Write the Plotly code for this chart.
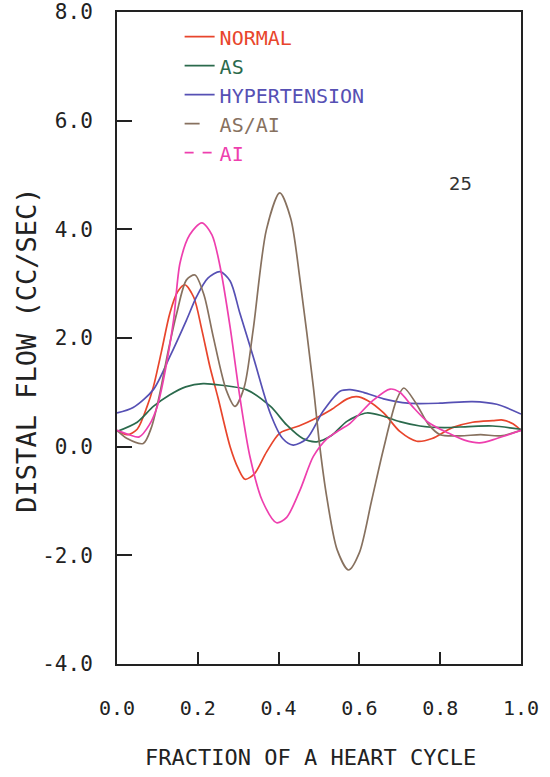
import plotly.graph_objects as go

# ---- data ----
normal_x = [0, 0.025, 0.05, 0.075, 0.09, 0.11, 0.131, 0.15, 0.168, 0.19, 0.21, 0.23, 0.25, 0.28, 0.3, 0.317,
            0.34, 0.37, 0.403, 0.45, 0.486, 0.53, 0.57, 0.593, 0.62, 0.66, 0.7, 0.742, 0.78, 0.83, 0.88, 0.93,
            0.955, 0.98, 1.0]
normal_y = [0.3, 0.22, 0.32, 0.75, 1.1, 1.75, 2.46, 2.85, 2.98, 2.75, 2.15, 1.47, 0.9, 0.0, -0.4, -0.6,
            -0.5, -0.1, 0.25, 0.38, 0.5, 0.68, 0.88, 0.92, 0.85, 0.62, 0.28, 0.1, 0.15, 0.35, 0.45, 0.48,
            0.49, 0.42, 0.3]

as_x = [0, 0.05, 0.09, 0.13, 0.17, 0.213, 0.26, 0.32, 0.38, 0.42, 0.46, 0.494, 0.53, 0.57, 0.618, 0.66,
        0.7, 0.75, 0.81, 0.87, 0.93, 1.0]
as_y = [0.28, 0.45, 0.74, 0.95, 1.1, 1.16, 1.13, 1.05, 0.74, 0.4, 0.15, 0.09, 0.2, 0.47, 0.62, 0.56,
        0.46, 0.38, 0.35, 0.37, 0.38, 0.32]

hyp_x = [0, 0.04, 0.09, 0.131, 0.172, 0.197, 0.225, 0.255, 0.28, 0.304, 0.337, 0.379, 0.41, 0.436, 0.47,
         0.51, 0.552, 0.577, 0.61, 0.66, 0.72, 0.8, 0.88, 0.94, 1.0]
hyp_y = [0.62, 0.72, 1.05, 1.66, 2.33, 2.76, 3.1, 3.22, 3.05, 2.46, 1.66, 0.62, 0.15, 0.03, 0.15,
         0.65, 1.02, 1.05, 1.0, 0.88, 0.8, 0.8, 0.83, 0.78, 0.6]

asai_x = [0, 0.025, 0.065, 0.085, 0.106, 0.125, 0.148, 0.172, 0.193, 0.215, 0.238, 0.27, 0.292, 0.315,
          0.337, 0.37, 0.403, 0.43, 0.453, 0.486, 0.502, 0.519, 0.545, 0.573, 0.6, 0.63, 0.659, 0.692,
          0.71, 0.74, 0.77, 0.8, 0.85, 0.9, 0.95, 1.0]
asai_y = [0.3, 0.15, 0.06, 0.35, 0.98, 1.7, 2.46, 3.07, 3.16, 2.8, 2.03, 1.05, 0.74, 1.1,
          2.15, 4.0, 4.67, 4.2, 3.07, 1.1, 0.0, -0.92, -1.9, -2.27, -1.95, -1.0, -0.06, 0.86,
          1.08, 0.8, 0.42, 0.22, 0.2, 0.22, 0.2, 0.3]

ai_x = [0, 0.03, 0.055, 0.08, 0.1, 0.115, 0.14, 0.156, 0.18, 0.21, 0.235, 0.255, 0.28, 0.304, 0.329,
        0.36, 0.395, 0.42, 0.453, 0.486, 0.52, 0.552, 0.577, 0.635, 0.676, 0.7, 0.73, 0.77, 0.82, 0.86,
        0.898, 0.94, 1.0]
ai_y = [0.3, 0.22, 0.18, 0.4, 0.75, 1.23, 2.33, 3.38, 3.9, 4.12, 3.9, 3.32, 2.2, 0.92, -0.18,
        -1.0, -1.4, -1.3, -0.8, -0.18, 0.15, 0.31, 0.43, 0.86, 1.06, 1.0, 0.75, 0.45, 0.25, 0.12,
        0.07, 0.15, 0.3]

series_names = ["NORMAL", "AS", "HYPERTENSION", "AS/AI", "AI"]
series_colors = ["#e8452c", "#2b6a4c", "#5650b4", "#87715f", "#ee3fae"]
legend_dash = ["solid", "solid", "solid", "longdash", "dash"]

x_ticks = [0.0, 0.2, 0.4, 0.6, 0.8, 1.0]
x_tick_text = ["0.0", "0.2", "0.4", "0.6", "0.8", "1.0"]
y_ticks = [-4.0, -2.0, 0.0, 2.0, 4.0, 6.0, 8.0]
y_tick_text = ["-4.0", "-2.0", "0.0", "2.0", "4.0", "6.0", "8.0"]

FONT = "DejaVu Sans Mono"

fig = go.Figure()
data = [(normal_x, normal_y), (as_x, as_y), (hyp_x, hyp_y), (asai_x, asai_y), (ai_x, ai_y)]
for (xs, ys), name, col in zip(data, series_names, series_colors):
    fig.add_trace(go.Scatter(x=xs, y=ys, mode="lines", showlegend=False,
                             line=dict(color=col, width=1.7, shape="spline", smoothing=0.8),
                             hoverinfo="skip"))
for name, col, dash in zip(series_names, series_colors, legend_dash):
    fig.add_trace(go.Scatter(x=[None], y=[None], mode="lines",
                             name=f"<span style='color:{col}'>{name}</span>",
                             line=dict(color=col, width=1.7, dash=dash)))

fig.add_annotation(x=0.849, y=4.84, xref="x", yref="y", text="25", showarrow=False,
                   font=dict(family="DejaVu Sans", size=18, color="#333333"))
# axis titles
fig.add_annotation(x=-0.223, y=0.482, xref="paper", yref="paper", text="DISTAL FLOW (CC/SEC)",
                   textangle=-90, showarrow=False, xanchor="center", yanchor="middle",
                   font=dict(family=FONT, size=27, color="#222222"))
fig.add_annotation(x=0.479, y=-0.144, xref="paper", yref="paper", text="FRACTION OF A HEART CYCLE",
                   showarrow=False, xanchor="center", yanchor="middle",
                   font=dict(family=FONT, size=22, color="#222222"))

fig.update_layout(
    width=550, height=777,
    margin=dict(l=117, r=29, t=12, b=113),
    paper_bgcolor="white", plot_bgcolor="white",
    font=dict(family=FONT, color="#222222", size=20),
    legend=dict(x=0.155, y=0.992, xanchor="left", yanchor="top", bgcolor="rgba(0,0,0,0)",
                font=dict(family=FONT, size=20), tracegroupgap=0, itemwidth=30),
    xaxis=dict(range=[0, 1], tickvals=x_ticks, ticktext=x_tick_text, ticks="inside", ticklen=12,
               tickwidth=1.5, tickcolor="#222", showline=True, linecolor="#222", linewidth=2,
               mirror=True, showgrid=False, zeroline=False, ticklabelstandoff=25, automargin=False,
               tickfont=dict(size=20)),
    yaxis=dict(range=[-4, 8], tickvals=y_ticks, ticktext=y_tick_text, ticks="inside", ticklen=15,
               tickwidth=1.5, tickcolor="#222", showline=True, linecolor="#222", linewidth=2,
               mirror=True, showgrid=False, zeroline=False, ticklabelstandoff=18, automargin=False,
               tickfont=dict(size=21)),
)

fig.write_html("out.html")
